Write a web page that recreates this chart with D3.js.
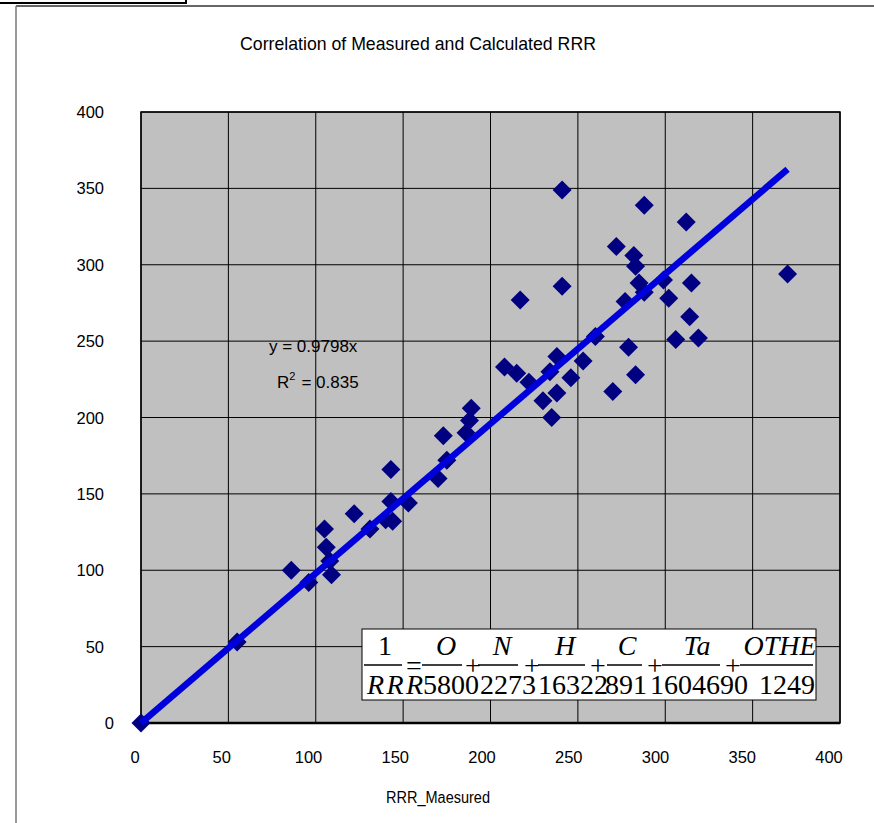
<!DOCTYPE html>
<html>
<head>
<meta charset="utf-8">
<script src="https://cdn.jsdelivr.net/npm/d3@7"></script>
<style>
  body { margin: 0; background: #fff; }
  text { font-family: "Liberation Sans", Arial, sans-serif; }
</style>
</head>
<body>
<svg id="chart" width="874" height="823"></svg>
<script>
/* jshint esversion:6 */
// values
const measured   = [0, 55, 86, 96, 105, 106, 108, 109, 122, 131, 140, 144, 143, 143, 153, 170, 175, 173, 186, 188, 189,
                    208, 215, 217, 222, 230, 234, 235, 238, 238, 241, 241, 246, 253, 260, 270, 272, 277, 279, 282, 283,
                    283, 285, 288, 288, 299, 302, 306, 312, 314, 315, 319, 370];
const calculated = [0, 53, 100, 92, 127, 115, 106, 97, 137, 127, 133, 132, 145, 166, 144, 160, 172, 188, 190, 198, 206,
                    233, 229, 277, 223, 211, 230, 200, 240, 216, 349, 286, 226, 237, 253, 217, 312, 276, 246, 306, 299,
                    228, 288, 339, 282, 290, 278, 251, 328, 266, 288, 252, 294];
const xTicks = [0, 50, 100, 150, 200, 250, 300, 350, 400];
const yTicks = [0, 50, 100, 150, 200, 250, 300, 350, 400];
const slope = 0.9798;
const rSquared = "0.835";
const chartTitle = "Correlation of Measured and Calculated RRR";
const xTitle = "RRR_Maesured";

// formula shown in the white box
const formulaNumerators   = ["O", "N", "H", "C", "Ta", "OTHE"];
const formulaDenominators = ["5800", "2273", "16322", "891", "1604690", "1249"];

const svg = d3.select("#chart");
const plot = { left: 141, right: 840, top: 112, bottom: 723 };

const x = d3.scaleLinear().domain([0, 400]).range([plot.left, plot.right]);
const y = d3.scaleLinear().domain([0, 400]).range([plot.bottom, plot.top]);
// tick labels sit slightly left of their grid lines in the original
const xLabel = d3.scaleLinear().domain([0, 400]).range([135, 829]);

// outer frame
svg.append("line").attr("x1", 16).attr("y1", 6).attr("x2", 874).attr("y2", 6)
  .attr("stroke", "#333").attr("stroke-width", 1.5);
svg.append("line").attr("x1", 16).attr("y1", 6).attr("x2", 16).attr("y2", 823)
  .attr("stroke", "#777").attr("stroke-width", 1.5);
svg.append("path").attr("d", "M0,3H186V0")
  .attr("fill", "none").attr("stroke", "#000").attr("stroke-width", 2);

// title
svg.append("text")
  .attr("x", 418).attr("y", 50)
  .attr("text-anchor", "middle")
  .attr("font-size", 17.7)
  .text(chartTitle);

// plot background
svg.append("rect")
  .attr("x", plot.left).attr("y", plot.top)
  .attr("width", plot.right - plot.left).attr("height", plot.bottom - plot.top)
  .attr("fill", "#c0c0c0");

// grid
const grid = svg.append("g");
grid.selectAll("line.v").data(xTicks).enter().append("line")
  .attr("x1", d => x(d)).attr("x2", d => x(d))
  .attr("y1", plot.top).attr("y2", plot.bottom)
  .attr("stroke", "#000").attr("stroke-width", 1);
grid.selectAll("line.h").data(yTicks).enter().append("line")
  .attr("x1", plot.left).attr("x2", plot.right)
  .attr("y1", d => y(d)).attr("y2", d => y(d))
  .attr("stroke", "#000").attr("stroke-width", 1);

svg.append("rect")
  .attr("x", plot.left).attr("y", plot.top)
  .attr("width", plot.right - plot.left).attr("height", plot.bottom - plot.top)
  .attr("fill", "none").attr("stroke", "#000").attr("stroke-width", 1.5);
svg.append("line")
  .attr("x1", plot.left).attr("x2", plot.right)
  .attr("y1", plot.bottom).attr("y2", plot.bottom)
  .attr("stroke", "#000").attr("stroke-width", 2.5);

// tick labels
svg.append("g").selectAll("text").data(xTicks).enter().append("text")
  .attr("x", d => xLabel(d)).attr("y", 763)
  .attr("text-anchor", "middle")
  .attr("font-size", 16.5)
  .text(d => d);
svg.append("g").selectAll("text").data(yTicks).enter().append("text")
  .attr("x", d => d === 0 ? 114 : 104).attr("y", d => y(d) + 6)
  .attr("text-anchor", "end")
  .attr("font-size", 16.5)
  .text(d => d);

svg.append("text")
  .attr("x", 386).attr("y", 803)
  .attr("textLength", 104).attr("lengthAdjust", "spacingAndGlyphs")
  .attr("font-size", 16)
  .text(xTitle);

// data points
const points = measured.map((m, i) => ({ m: m, c: calculated[i] }));
svg.append("g").selectAll("path").data(points).enter().append("path")
  .attr("transform", d => "translate(" + x(d.m) + "," + y(d.c) + ")")
  .attr("d", "M0,-9.5L9.5,0L0,9.5L-9.5,0Z")
  .attr("fill", "#000080");

// trend line through origin
const xMax = d3.max(measured);
svg.append("line")
  .attr("x1", x(0)).attr("y1", y(0))
  .attr("x2", x(xMax)).attr("y2", y(slope * xMax))
  .attr("stroke", "#0000dd").attr("stroke-width", 6.5);

// trend equation
svg.append("text")
  .attr("x", 269).attr("y", 352)
  .attr("font-size", 17)
  .text("y = " + slope + "x");
const r2 = svg.append("text")
  .attr("x", 277).attr("y", 388)
  .attr("font-size", 17);
r2.append("tspan").text("R");
r2.append("tspan").attr("font-size", 11).attr("dy", -8).text("2");
r2.append("tspan").attr("dy", 8).attr("dx", 6).text("= " + rSquared);

// formula box
const box = svg.append("g");
box.append("rect")
  .attr("x", 362).attr("y", 629).attr("width", 454).attr("height", 71)
  .attr("fill", "#fff").attr("stroke", "#000").attr("stroke-width", 1);

const serif = "'Liberation Serif', 'Times New Roman', serif";
const barSpans = [[364, 402], [422, 462], [478, 518], [538, 585], [607, 642], [662, 720], [740, 813]];
const numCenters = [446, 502, 565, 627, 697, 780];
const denStarts = [423, 480, 538, 605, 650, 759];
const opCenters = [414, 473, 532, 598, 655, 733];

box.selectAll("line.bar").data(barSpans).enter().append("line")
  .attr("x1", d => d[0]).attr("x2", d => d[1])
  .attr("y1", 665).attr("y2", 665)
  .attr("stroke", "#000").attr("stroke-width", 1.6);

box.append("text")
  .attr("x", 385).attr("y", 655)
  .attr("text-anchor", "middle")
  .style("font-family", serif).attr("font-size", 28)
  .text("1");
box.append("text")
  .attr("x", 367).attr("y", 694)
  .attr("textLength", 56).attr("lengthAdjust", "spacing")
  .style("font-family", serif).style("font-style", "italic").attr("font-size", 28)
  .text("RRR");

box.selectAll("text.num").data(formulaNumerators).enter().append("text")
  .attr("x", (d, i) => numCenters[i]).attr("y", 655)
  .attr("text-anchor", "middle")
  .style("font-family", serif).style("font-style", "italic").attr("font-size", 28)
  .text(d => d);
box.selectAll("text.den").data(formulaDenominators).enter().append("text")
  .attr("x", (d, i) => denStarts[i]).attr("y", 694)
  .style("font-family", serif).attr("font-size", 28)
  .text(d => d);
box.selectAll("text.op").data(opCenters).enter().append("text")
  .attr("x", d => d).attr("y", 675)
  .attr("text-anchor", "middle")
  .style("font-family", serif).attr("font-size", 28)
  .text((d, i) => i === 0 ? "=" : "+");
</script>
</body>
</html>
